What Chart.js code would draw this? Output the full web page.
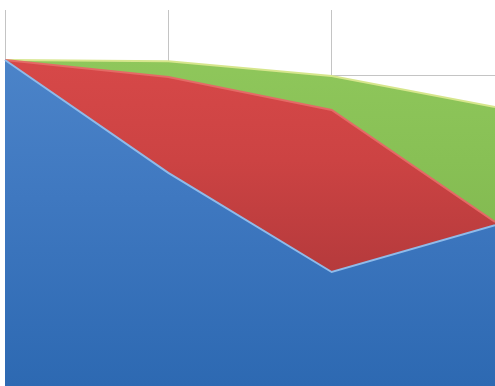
<!DOCTYPE html>
<html>
<head>
<meta charset="utf-8">
<script src="https://cdn.jsdelivr.net/npm/chart.js@4/dist/chart.umd.min.js"></script>
<style>
html,body{margin:0;padding:0;background:#fff;}
#wrap{width:495px;height:386px;}
</style>
</head>
<body>
<div id="wrap"><canvas id="c" width="495" height="386"></canvas></div>
<script>
const categories = ['1', '2', '3', '4'];
const blueValues = [84.1, 55.0, 29.4, 41.5];
const redValues = [0, 24.7, 41.8, 0.8];
const greenValues = [0, 4.1, 8.8, 29.7];
const yTicks = [0, 20, 40, 60, 80];

function grad(stops, solid) {
  return function (ctx) {
    const ca = ctx.chart.chartArea;
    if (!ca) return solid;
    const g = ctx.chart.ctx.createLinearGradient(0, ca.top, 0, ca.bottom);
    stops.forEach(s => g.addColorStop(s[0], s[1]));
    return g;
  };
}

new Chart(document.getElementById('c'), {
  type: 'line',
  data: {
    labels: categories,
    datasets: [
      {
        data: blueValues,
        fill: 'origin',
        backgroundColor: grad([[0, '#5088cc'], [0.5, '#3f78c0'], [1, '#2d69b2']], '#3e76be'),
        borderColor: '#8fbbea',
        borderWidth: 2,
        pointRadius: 0,
        tension: 0
      },
      {
        data: redValues,
        fill: '-1',
        backgroundColor: grad([[0, '#dc4b4b'], [0.4, '#cc4343'], [0.7, '#b53a3c'], [1, '#a83436']], '#cc4444'),
        borderColor: '#e46a66',
        borderWidth: 2,
        pointRadius: 0,
        tension: 0
      },
      {
        data: greenValues,
        fill: '-1',
        backgroundColor: grad([[0, '#92ca5e'], [0.4, '#88c055'], [1, '#78ad49']], '#8cc55a'),
        borderColor: '#d6e68c',
        borderWidth: 2,
        pointRadius: 0,
        tension: 0
      }
    ]
  },
  options: {
    responsive: false,
    animation: false,
    layout: { padding: { left: 5, top: 10, right: 0, bottom: 0 } },
    plugins: { legend: { display: false }, tooltip: { enabled: false } },
    scales: {
      x: {
        type: 'category',
        offset: false,
        grid: { color: '#c4c4c4', lineWidth: 1, drawTicks: false, offset: false },
        border: { display: false },
        ticks: { display: false }
      },
      y: {
        stacked: true,
        min: 0,
        max: 97,
        afterBuildTicks: (scale) => { scale.ticks = yTicks.map(v => ({ value: v })); },
        grid: { color: '#c4c4c4', lineWidth: 1, drawTicks: false },
        border: { display: false },
        ticks: { display: false, includeBounds: false }
      }
    }
  }
});
</script>
</body>
</html>
